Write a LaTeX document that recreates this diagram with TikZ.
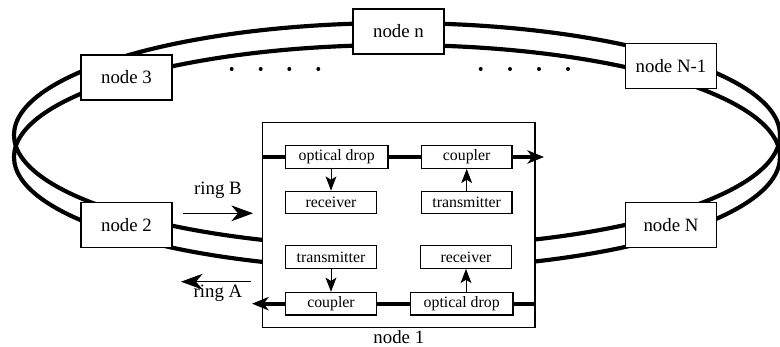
\documentclass[tikz,border=0pt]{standalone}
\usepackage{fontspec}
\setmainfont{Liberation Serif}
\usetikzlibrary{arrows.meta, positioning}

\begin{document}
\begin{tikzpicture}[x=0.6pt, y=-0.6pt,
  every node/.style={font=\fontsize{11.3}{13}\selectfont},
  bignode/.style={draw, fill=white, line width=0.8pt, minimum width=54.6pt, minimum height=27pt, inner sep=0pt},
  part/.style={draw, fill=white, line width=0.7pt, minimum width=54.3pt, minimum height=13.6pt, inner sep=0pt, font=\fontsize{9.5}{11}\selectfont},
  widepart/.style={part, minimum width=61.5pt},
  ring/.style={line width=2.5pt},
  tap/.style={line width=0.6pt, -{Stealth[length=8.5pt, width=6.5pt, inset=2pt]}},
  flow/.style={line width=0.6pt, -{Stealth[length=13pt, width=9.5pt, inset=4pt]}}]
  \clip (0,0) rectangle (780,347);
  % the two rings
  \draw[ring] (397,135) ellipse [x radius=229.8pt, y radius=67.2pt];
  \draw[ring] (397,157) ellipse [x radius=229.8pt, y radius=67.2pt];
  % ring nodes
  \node (n1) [draw, fill=white, line width=0.8pt, minimum width=163.4pt, minimum height=122.8pt] at (398.85,225) {};
  \node (n1label) [below=1pt of n1, inner sep=0pt] {node 1};
  \node (n2) [bignode] at (126.5,225) {node 2};
  \node (n3) [bignode] at (126.5,77.5) {node 3};
  \node (nn) [bignode] at (398.5,31.5) {node n};
  \node (nN1) [bignode] at (671,66) {node N-1};
  \node (nN) [bignode] at (671,225) {node N};
  \foreach \x in {231.7,260.7,289.3,318.3,480.7,510,539,568}
    \fill (\x,69) circle (1.2pt);
  % inside node 1
  \node (od1) [widepart] at (336.7,157) {optical drop};
  \node (cp1) [part] at (466.7,157) {coupler};
  \node (rx1) [part] at (331,202.5) {receiver};
  \node (tx1) [part] at (466.7,202.5) {transmitter};
  \node (tx2) [part] at (331,257) {transmitter};
  \node (rx2) [part] at (466,257) {receiver};
  \node (cp2) [part] at (331,303.7) {coupler};
  \node (od2) [widepart] at (461.7,303.7) {optical drop};
  \coordinate (outB) at (544,157);
  \coordinate (outA) at (252,303.7);
  \draw[ring] (n1.west |- od1.west) -- (od1.west);
  \draw[ring] (od1.east) -- (cp1.west);
  \draw[ring, -{Stealth[length=10pt, width=8pt, inset=3pt]}] (cp1.east) -- (outB);
  \draw[ring] (n1.east |- od2.east) -- (od2.east);
  \draw[ring] (od2.west) -- (cp2.east);
  \draw[ring, -{Stealth[length=10pt, width=8pt, inset=3pt]}] (cp2.west) -- (outA);
  \draw[tap] (rx1.north |- od1.south) -- (rx1.north);
  \draw[tap] (tx1.north) -- (cp1.south);
  \draw[tap] (tx2.south) -- (cp2.north);
  \draw[tap] (rx2.south |- od2.north) -- (rx2.south);
  % ring directions
  \node (ringB) at (218,190) {ring B};
  \node (ringA) at (218,293) {ring A};
  \coordinate (b0) at (183,213.3);
  \coordinate (b1) at (253,213.3);
  \coordinate (a0) at (251,281.7);
  \coordinate (a1) at (181,281.7);
  \draw[flow] (b0) -- (b1);
  \draw[flow] (a0) -- (a1);
\end{tikzpicture}
\end{document}
